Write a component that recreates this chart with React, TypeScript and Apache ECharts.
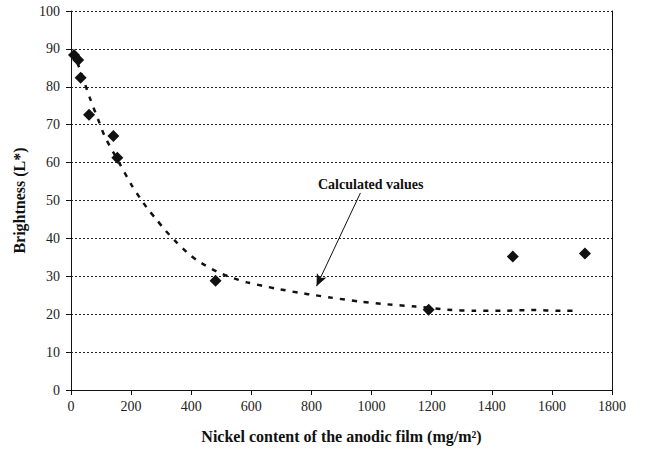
import React, { useEffect, useRef } from "react";
import * as echarts from "echarts";

const xTicks = [0, 200, 400, 600, 800, 1000, 1200, 1400, 1600, 1800];
const yTicks = [0, 10, 20, 30, 40, 50, 60, 70, 80, 90, 100];

// measured points: nickel content (mg/m2), brightness L*
const measuredX = [10, 24, 32, 60, 141, 154, 481, 1190, 1470, 1710];
const measuredY = [88.4, 87.1, 82.4, 72.6, 67, 61.3, 28.8, 21.2, 35.2, 36.0];

// calculated curve
const calcX = [0, 10, 30, 63, 93, 113, 160, 202, 230, 258, 286, 313, 352, 386, 419, 486, 530, 586, 680, 763, 813, 863, 963, 1052, 1147, 1252, 1341, 1430, 1530, 1630, 1686];
const calcY = [89, 88.4, 84.5, 77, 70.8, 66.8, 60, 54, 50.6, 47.5, 44.8, 42.2, 38.9, 36.3, 34.2, 31.2, 29.8, 28.4, 26.8, 25.6, 25.0, 24.4, 23.3, 22.6, 22, 21.2, 20.9, 20.9, 21.1, 20.9, 20.9];

const annotationText = "Calculated values";
const arrowFrom = [963, 52];
const arrowTo = [817, 27.4];

const FONT = "Liberation Serif";

export default function App() {
  const ref = useRef<HTMLDivElement>(null);
  useEffect(() => {
    if (!ref.current) return;
    const chart = echarts.init(ref.current, undefined, { renderer: "svg" });
    const measured = measuredX.map((x, i) => [x, measuredY[i]]);
    const calc = calcX.map((x, i) => [x, calcY[i]]);
    chart.setOption({
      animation: false,
      backgroundColor: "#ffffff",
      grid: { left: 71, right: 40, top: 11, bottom: 61 },
      xAxis: {
        type: "value",
        min: xTicks[0],
        max: xTicks[xTicks.length - 1],
        interval: 200,
        name: "Nickel content of the anodic film (mg/m²)",
        nameLocation: "middle",
        nameGap: 38,
        nameTextStyle: { fontFamily: FONT, fontWeight: "bold", fontSize: 16, color: "#111" },
        axisLine: { show: true, onZero: false, lineStyle: { color: "#111", width: 1 } },
        axisTick: { show: true, inside: false, length: 5, lineStyle: { color: "#111" } },
        axisLabel: { fontFamily: FONT, fontSize: 14, color: "#222", margin: 9, formatter: (v: number) => String(v) },
        splitLine: { show: false },
      },
      yAxis: [
        {
          type: "value",
          min: yTicks[0],
          max: yTicks[yTicks.length - 1],
          interval: 10,
          name: "Brightness (L*)",
          nameLocation: "middle",
          nameGap: 44,
          nameTextStyle: { fontFamily: FONT, fontWeight: "bold", fontSize: 16, color: "#111" },
          axisLine: { show: true, lineStyle: { color: "#111", width: 1 } },
          axisTick: { show: true, inside: false, length: 5, lineStyle: { color: "#111" } },
          axisLabel: { fontFamily: FONT, fontSize: 14, color: "#222", margin: 11, formatter: (v: number) => String(v) },
          splitLine: { show: true, lineStyle: { color: "#222", type: [2, 2], width: 1 } },
        },
        {
          type: "value",
          position: "right",
          min: 0,
          max: 100,
          interval: 10,
          axisLine: { show: true, lineStyle: { color: "#111", width: 1 } },
          axisTick: { show: false },
          axisLabel: { show: false },
          splitLine: { show: false },
        },
      ],
      series: [
        {
          type: "line",
          data: calc,
          smooth: 0.25,
          symbol: "none",
          lineStyle: { color: "#111", width: 2.5, type: [5, 7] },
          z: 2,
          markLine: {
            silent: true,
            symbol: ["none", "arrow"],
            symbolSize: [8, 12],
            label: { show: false },
            lineStyle: { color: "#111", width: 1, type: "solid" },
            data: [[{ coord: arrowFrom }, { coord: arrowTo }]],
          },
        },
        {
          type: "scatter",
          data: measured,
          symbol: "diamond",
          symbolSize: 12,
          itemStyle: { color: "#111", opacity: 1 },
          z: 3,
        },
      ],
      graphic: [
        {
          type: "text",
          left: 368 - 50,
          top: 177,
          style: { text: annotationText, font: `bold 14px "${FONT}"`, fill: "#111" },
        },
      ],
    });
    return () => chart.dispose();
  }, []);
  return <div ref={ref} style={{ position: "fixed", left: 0, top: 0, width: 652, height: 451 }} />;
}
